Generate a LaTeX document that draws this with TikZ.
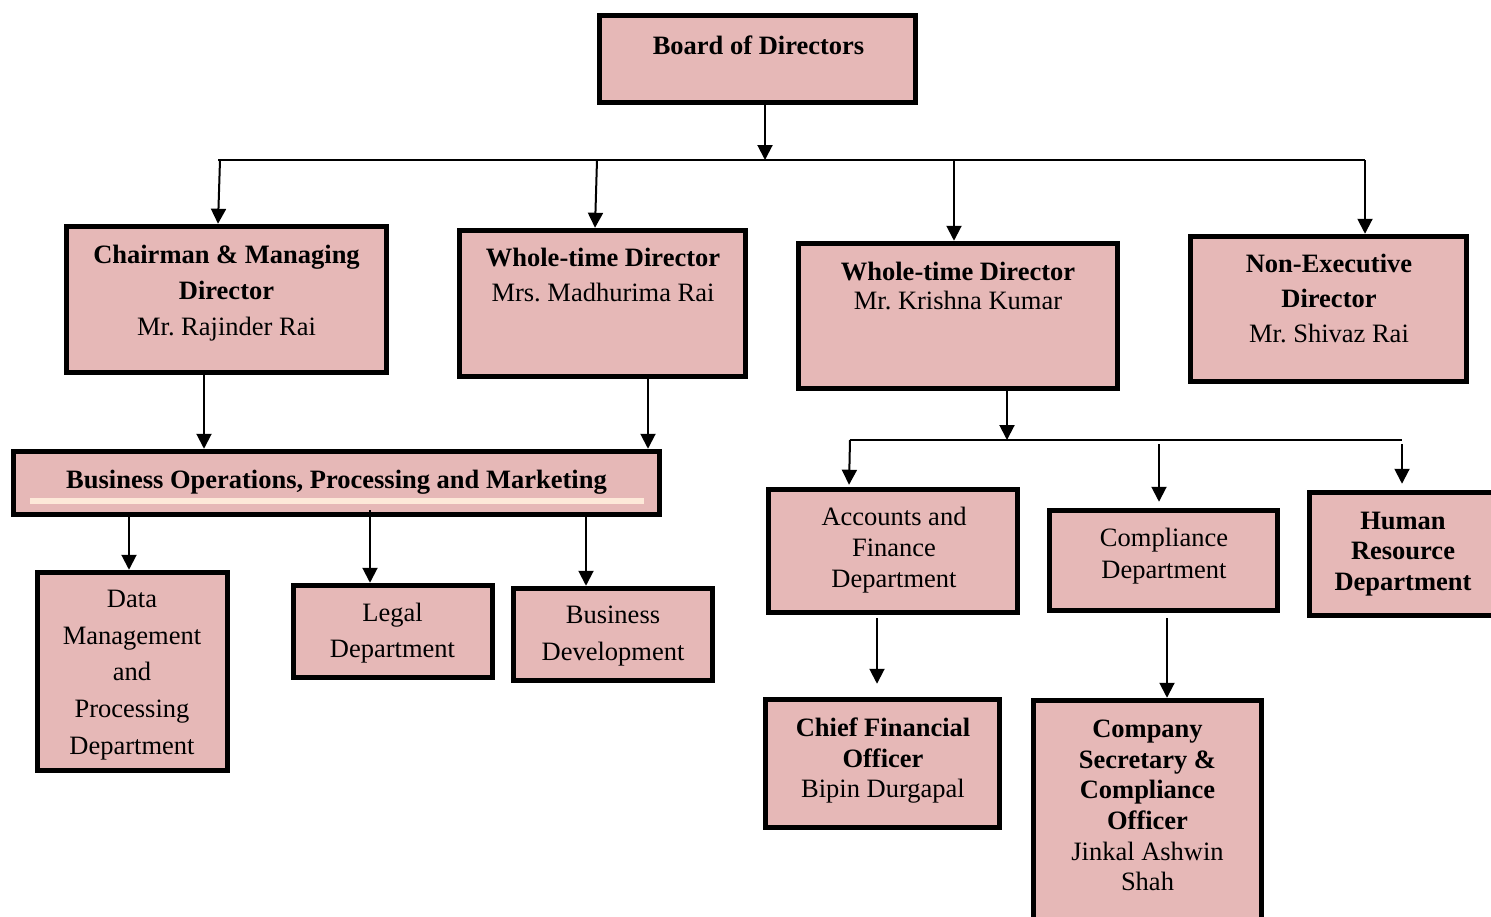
\documentclass[tikz,border=0pt]{standalone}
\usepackage{fontspec}
\setmainfont{Liberation Serif}
\usetikzlibrary{arrows.meta}
\definecolor{boxpink}{HTML}{E6B8B7}
\definecolor{cream}{HTML}{FDE9D9}
\frenchspacing
\newcommand\orgbox[5]{\node[box, minimum width={#4-#2-5}, minimum height={#5-#3-5}] (#1) at ({(#2+#4)/2},{(#3+#5)/2}) {};}
\begin{document}
\begin{tikzpicture}[x=1pt,y=-1pt,
  box/.style={draw=black, fill=boxpink, line width=5.5pt, inner sep=0pt, rectangle},
  txt/.style={align=center, inner sep=0pt, font=\fontsize{26.5}{#1}\selectfont},
  txt/.default=35,
  arr/.style={line width=2pt, -{Triangle[width=15pt,length=15pt]}},
  bus/.style={line width=2pt}]
\useasboundingbox (0,0) rectangle (1491,916);
\fill[white] (0,0) rectangle (1491,916);
\clip (0,0) rectangle (1491,916);
% boxes
\orgbox{board}{597}{13}{918}{105}
\orgbox{chair}{64}{224}{389}{375}
\orgbox{wtd1}{457}{228}{748}{379}
\orgbox{wtd2}{796}{241}{1120}{391}
\orgbox{ned}{1188}{234}{1469}{384}
\orgbox{bo}{11}{449}{662}{517}
\orgbox{data}{35}{570}{230}{773}
\orgbox{legal}{291}{583}{495}{680}
\orgbox{bd}{511}{586}{715}{683}
\orgbox{acc}{766}{487}{1020}{615}
\orgbox{comp}{1047}{508}{1280}{613}
\orgbox{hr}{1307}{490}{1499}{618}
\orgbox{cfo}{763}{697}{1002}{830}
\orgbox{cs}{1031}{698}{1264}{935}
\draw[cream, line width=6pt] (30,501) -- (644,501);
% texts
\node[txt, anchor=base] (tboard) at (758.5,54) {\textbf{Board of Directors}};
\node[txt=36] (tchair) at (226.5,293.5) {\textbf{Chairman \& Managing}\\\textbf{Director}\\Mr. Rajinder Rai};
\node[txt=35] (twtd1) at (603,275) {\textbf{Whole-time Director}\\Mrs. Madhurima Rai};
\node[txt=29] (twtd2) at (958,286) {\textbf{Whole-time Director}\\Mr. Krishna Kumar};
\node[txt=35] (tned) at (1329,298.5) {\textbf{Non-Executive}\\\textbf{Director}\\Mr. Shivaz Rai};
\node[txt, anchor=base] (tbo) at (336.5,488) {\textbf{Business Operations, Processing and Marketing}};
\node[txt=36.75] (tdata) at (132,675) {Data\\Management\\and\\Processing\\Department};
\node[txt=36] (tlegal) at (392.5,633.5) {Legal\\Department};
\node[txt=37] (tbd) at (613,636) {Business\\Development};
\node[txt=31] (tacc) at (894,550) {Accounts and\\Finance\\Department};
\node[txt=32] (tcomp) at (1164,556.5) {Compliance\\Department};
\node[txt=30.5] (thr) at (1403,554) {\textbf{Human}\\\textbf{Resource}\\\textbf{Department}};
\node[txt=30.5] (tcfo) at (883,761) {\textbf{Chief Financial}\\\textbf{Officer}\\Bipin Durgapal};
\node[txt=30.6] (tcs) at (1147.5,805.5) {\textbf{Company}\\\textbf{Secretary \&}\\\textbf{Compliance}\\\textbf{Officer}\\Jinkal Ashwin\\Shah};
% top level connectors
\coordinate (j1) at (765,160);
\coordinate (busL) at (218,160);
\coordinate (busR) at (1365,160);
\draw[bus] (busL) -- (busR);
\draw[arr] (board.south -| j1) -- (j1);
\coordinate (b1) at (220,160); \coordinate (e1) at (218,0);
\draw[arr] (b1) -- (chair.north -| e1);
\coordinate (b2) at (597,160); \coordinate (e2) at (595,0);
\draw[arr] (b2) -- (wtd1.north -| e2);
\coordinate (b3) at (954,160);
\draw[arr] (b3) -- (wtd2.north -| b3);
\draw[arr] (busR) -- (ned.north -| busR);
% to business operations
\coordinate (x204) at (204,0);
\coordinate (x648) at (648,0);
\draw[arr] (chair.south -| x204) -- (bo.north -| x204);
\draw[arr] (wtd1.south -| x648) -- (bo.north -| x648);
\coordinate (x129) at (129,0);
\coordinate (x370) at (370,0);
\coordinate (x586) at (586,0);
\draw[arr] (bo.south -| x129) -- (data.north -| x129);
\draw[arr, shorten <=-7pt] (bo.south -| x370) -- (legal.north -| x370);
\draw[arr, shorten <=-4pt] (bo.south -| x586) -- (bd.north -| x586);
% second group
\coordinate (j2) at (1007,440);
\coordinate (bus2L) at (850,440);
\coordinate (bus2R) at (1402,440);
\draw[bus] (bus2L) -- (bus2R);
\draw[arr] (wtd2.south -| j2) -- (j2);
\coordinate (x849) at (849,0);
\draw[arr, shorten >=2pt] (bus2L) -- (acc.north -| x849);
\coordinate (c2) at (1159,444);
\draw[arr, shorten >=6pt] (c2) -- (comp.north -| c2);
\coordinate (c3) at (1402,444);
\draw[arr, shorten >=6pt] (c3) -- (hr.north -| c3);
\coordinate (x877) at (877,0);
\coordinate (x1167) at (1167,0);
\draw[arr, shorten <=3pt, shorten >=13pt] (acc.south -| x877) -- (cfo.north -| x877);
\draw[arr, shorten <=5pt] (comp.south -| x1167) -- (cs.north -| x1167);
\end{tikzpicture}
\end{document}
